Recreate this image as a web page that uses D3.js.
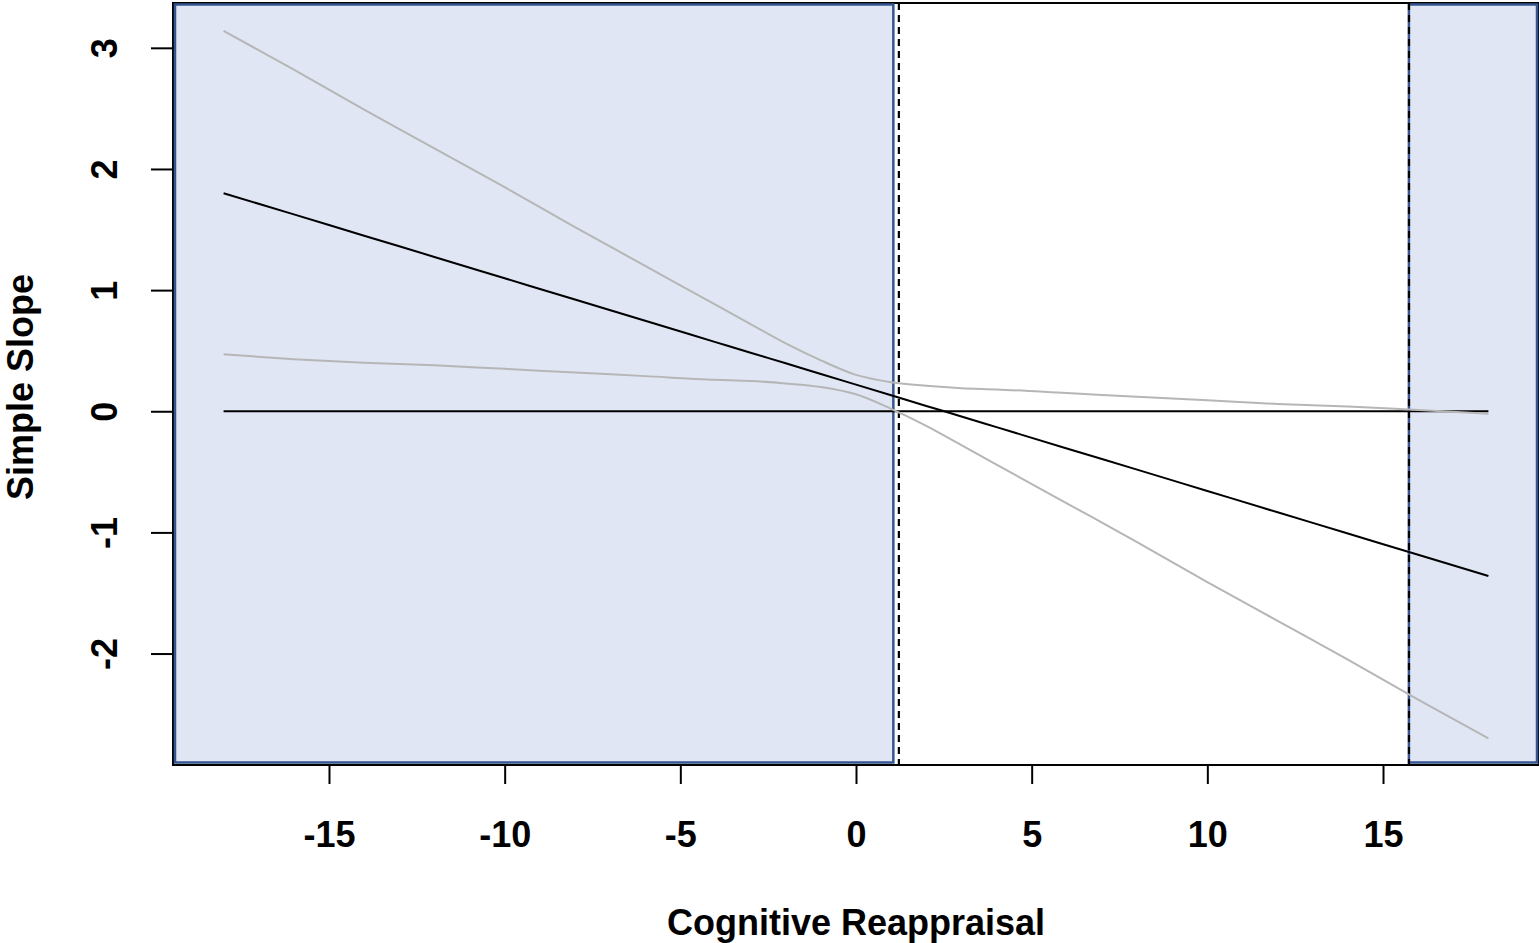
<!DOCTYPE html>
<html>
<head>
<meta charset="utf-8">
<script src="https://cdn.jsdelivr.net/npm/d3@7"></script>
<style>
  html, body { margin: 0; padding: 0; background: #fff; }
  svg text { font-family: "Liberation Sans", Arial, sans-serif; font-weight: bold; }
</style>
</head>
<body>
<div id="chart"></div>
<script>
// moderator values (x) and simple slope estimates
const modX     = [-18, -16, -14, -12, -10, -8, -6, -4, -3, -2, -1, 0, 1, 2, 3, 4, 6, 8, 10, 12, 14, 16, 18];
const slopeEst = [1.80, 1.625, 1.449, 1.274, 1.098, 0.922, 0.747, 0.571, 0.483, 0.396, 0.308, 0.22, 0.132, 0.044, -0.043, -0.131, -0.307, -0.482, -0.658, -0.834, -1.009, -1.185, -1.36];
const ciUpper  = [3.14, 2.82, 2.49, 2.17, 1.85, 1.52, 1.20, 0.88, 0.72, 0.56, 0.42, 0.30, 0.24, 0.21, 0.19, 0.18, 0.15, 0.12, 0.09, 0.06, 0.04, 0.01, -0.02];
const ciLower  = [0.47, 0.43, 0.40, 0.38, 0.35, 0.32, 0.29, 0.26, 0.25, 0.23, 0.20, 0.14, 0.02, -0.12, -0.28, -0.44, -0.76, -1.08, -1.41, -1.73, -2.05, -2.38, -2.70];

// Johnson-Neyman points and significance regions
const jnPoints = [1.22, 15.74];
const sigRegions = [[-19.44, 1.12], [15.68, 19.44]];

const xTicks = [-15, -10, -5, 0, 5, 10, 15];
const yTicks = [-2, -1, 0, 1, 2, 3];

const width = 1539, height = 943;
const plot = {left: 173, right: 1539, top: 3, bottom: 765};

const svg = d3.select("#chart").append("svg")
    .attr("width", width)
    .attr("height", height);

const x = d3.scaleLinear()
    .domain([-19.44, 19.44])
    .range([plot.left, plot.right]);

const y = d3.scaleLinear()
    .domain([-2.92, 3.37])
    .range([plot.bottom, plot.top]);

// plot frame
svg.append("rect")
    .attr("x", plot.left)
    .attr("y", plot.top)
    .attr("width", plot.right - plot.left)
    .attr("height", plot.bottom - plot.top)
    .attr("fill", "none")
    .attr("stroke", "#000")
    .attr("stroke-width", 2);

// shaded regions
svg.selectAll("rect.region")
  .data(sigRegions)
  .join("rect")
    .attr("class", "region")
    .attr("x", d => x(d[0]) + 2)
    .attr("y", plot.top + 1.5)
    .attr("width", d => x(d[1]) - x(d[0]) - 4)
    .attr("height", plot.bottom - plot.top - 4)
    .attr("fill", "#e0e6f4")
    .attr("stroke", "#34558f")
    .attr("stroke-width", 2.5);

// dashed JN lines
svg.selectAll("line.jn")
  .data(jnPoints)
  .join("line")
    .attr("class", "jn")
    .attr("x1", d => x(d))
    .attr("x2", d => x(d))
    .attr("y1", plot.top)
    .attr("y2", plot.bottom)
    .attr("stroke", "#000")
    .attr("stroke-width", 2.2)
    .attr("stroke-dasharray", "7,5");

// zero reference line
svg.append("line")
    .attr("x1", x(modX[0]))
    .attr("x2", x(modX[modX.length - 1]))
    .attr("y1", y(0))
    .attr("y2", y(0))
    .attr("stroke", "#000")
    .attr("stroke-width", 2);

const line = d3.line()
    .x((d, i) => x(modX[i]))
    .y(d => y(d))
    .curve(d3.curveMonotoneX);

[ciUpper, ciLower].forEach(s => {
  svg.append("path")
      .datum(s)
      .attr("d", line)
      .attr("fill", "none")
      .attr("stroke", "#b6b6b6")
      .attr("stroke-width", 2);
});

svg.append("path")
    .datum(slopeEst)
    .attr("d", line)
    .attr("fill", "none")
    .attr("stroke", "#000")
    .attr("stroke-width", 2);

// axes
const xAxis = svg.append("g")
    .attr("transform", `translate(0,${plot.bottom})`)
    .call(d3.axisBottom(x).tickValues(xTicks).tickSize(19).tickPadding(63).tickFormat(d3.format("d")));
xAxis.select(".domain").remove();
xAxis.selectAll(".tick line").attr("stroke", "#000").attr("stroke-width", 2);
xAxis.selectAll(".tick text")
    .attr("dy", 0)
    .attr("font-size", 36)
    .attr("fill", "#000")
    .text(d => d < 0 ? "-" + Math.abs(d) : d);

const yAxis = svg.append("g")
    .attr("transform", `translate(${plot.left},0)`)
    .call(d3.axisLeft(y).tickValues(yTicks).tickSize(22).tickFormat(d3.format("d")));
yAxis.select(".domain").remove();
yAxis.selectAll(".tick line").attr("stroke", "#000").attr("stroke-width", 2);
yAxis.selectAll(".tick text")
    .attr("x", 0)
    .attr("dy", 0)
    .attr("text-anchor", "middle")
    .attr("font-size", 36)
    .attr("fill", "#000")
    .attr("transform", "translate(-56,0) rotate(-90)")
    .text(d => d < 0 ? "-" + Math.abs(d) : d);

// axis titles
svg.append("text")
    .attr("x", x(0))
    .attr("y", 935)
    .attr("text-anchor", "middle")
    .attr("font-size", 36)
    .attr("fill", "#000")
    .text("Cognitive Reappraisal");

svg.append("text")
    .attr("transform", `translate(33,${y(0.2)}) rotate(-90)`)
    .attr("text-anchor", "middle")
    .attr("font-size", 36)
    .attr("fill", "#000")
    .text("Simple Slope");
</script>
</body>
</html>
